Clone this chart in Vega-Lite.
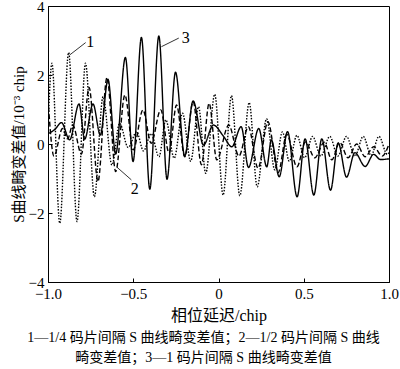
{
  "$schema": "https://vega.github.io/schema/vega-lite/v6.json",
  "width": 341,
  "height": 276,
  "autosize": {"type": "none"},
  "padding": {"left": 48, "top": 6, "right": 11, "bottom": 87},
  "background": "white",
  "config": {
    "view": {"stroke": "black", "strokeWidth": 1},
    "font": "Liberation Serif",
    "axis": {
      "grid": false,
      "domainColor": "black",
      "domainWidth": 1,
      "tickColor": "black",
      "tickWidth": 1,
      "labelColor": "black",
      "labelFont": "Liberation Serif",
      "labelFontSize": 15,
      "titleColor": "black",
      "titleFont": "Liberation Serif, Noto Sans CJK SC",
      "titleFontWeight": "normal"
    }
  },
  "title": {
    "text": ["1—1/4 码片间隔 S 曲线畸变差值；2—1/2 码片间隔 S 曲线", "畸变差值；3—1 码片间隔 S 曲线畸变差值"],
    "orient": "bottom",
    "anchor": "middle",
    "font": "Liberation Serif, Noto Sans CJK SC",
    "fontSize": 14,
    "fontWeight": "normal",
    "lineHeight": 20,
    "color": "black",
    "offset": 8,
    "dx": -15
  },
  "datasets": {
    "curves": [
      {"series": "1", "x": -1.0, "y": 0.4},
      {"series": "1", "x": -0.977, "y": 2.34},
      {"series": "1", "x": -0.931, "y": -2.30},
      {"series": "1", "x": -0.879, "y": 2.65},
      {"series": "1", "x": -0.83, "y": -2.25},
      {"series": "1", "x": -0.78, "y": 2.34},
      {"series": "1", "x": -0.728, "y": -1.53},
      {"series": "1", "x": -0.677, "y": 1.37},
      {"series": "1", "x": -0.625, "y": -0.61},
      {"series": "1", "x": -0.58, "y": 0.6},
      {"series": "1", "x": -0.53, "y": -0.1},
      {"series": "1", "x": -0.48, "y": 0.35},
      {"series": "1", "x": -0.44, "y": -0.2},
      {"series": "1", "x": -0.395, "y": 0.3},
      {"series": "1", "x": -0.349, "y": -0.37},
      {"series": "1", "x": -0.309, "y": 0.7},
      {"series": "1", "x": -0.26, "y": -0.41},
      {"series": "1", "x": -0.211, "y": 0.89},
      {"series": "1", "x": -0.163, "y": -0.5},
      {"series": "1", "x": -0.117, "y": 1.08},
      {"series": "1", "x": -0.075, "y": -0.85},
      {"series": "1", "x": -0.022, "y": 1.44},
      {"series": "1", "x": 0.027, "y": -1.48},
      {"series": "1", "x": 0.076, "y": 1.40},
      {"series": "1", "x": 0.125, "y": -1.50},
      {"series": "1", "x": 0.18, "y": 1.2},
      {"series": "1", "x": 0.227, "y": -1.24},
      {"series": "1", "x": 0.282, "y": 0.73},
      {"series": "1", "x": 0.33, "y": -0.75},
      {"series": "1", "x": 0.375, "y": 0.35},
      {"series": "1", "x": 0.415, "y": -0.5},
      {"series": "1", "x": 0.46, "y": 0.25},
      {"series": "1", "x": 0.505, "y": -0.4},
      {"series": "1", "x": 0.552, "y": 0.22},
      {"series": "1", "x": 0.60, "y": -0.35},
      {"series": "1", "x": 0.653, "y": 0.22},
      {"series": "1", "x": 0.70, "y": -0.35},
      {"series": "1", "x": 0.751, "y": 0.22},
      {"series": "1", "x": 0.80, "y": -0.35},
      {"series": "1", "x": 0.849, "y": 0.22},
      {"series": "1", "x": 0.895, "y": -0.33},
      {"series": "1", "x": 0.941, "y": 0.22},
      {"series": "1", "x": 0.99, "y": -0.3},
      {"series": "1", "x": 1.0, "y": -0.25},

      {"series": "2", "x": -1.0, "y": 1.3},
      {"series": "2", "x": -0.965, "y": -0.35},
      {"series": "2", "x": -0.915, "y": 0.45},
      {"series": "2", "x": -0.885, "y": 0.15},
      {"series": "2", "x": -0.855, "y": 0.55},
      {"series": "2", "x": -0.804, "y": -0.29},
      {"series": "2", "x": -0.759, "y": 1.64},
      {"series": "2", "x": -0.707, "y": -1.09},
      {"series": "2", "x": -0.654, "y": 1.93},
      {"series": "2", "x": -0.603, "y": -0.80},
      {"series": "2", "x": -0.549, "y": 1.42},
      {"series": "2", "x": -0.50, "y": -0.17},
      {"series": "2", "x": -0.443, "y": 0.99},
      {"series": "2", "x": -0.395, "y": 0.02},
      {"series": "2", "x": -0.339, "y": 0.99},
      {"series": "2", "x": -0.29, "y": -0.26},
      {"series": "2", "x": -0.246, "y": 1.13},
      {"series": "2", "x": -0.198, "y": -0.37},
      {"series": "2", "x": -0.149, "y": 1.23},
      {"series": "2", "x": -0.10, "y": -0.6},
      {"series": "2", "x": -0.055, "y": 1.18},
      {"series": "2", "x": -0.01, "y": -0.46},
      {"series": "2", "x": 0.06, "y": 0.55},
      {"series": "2", "x": 0.12, "y": -0.35},
      {"series": "2", "x": 0.175, "y": 0.5},
      {"series": "2", "x": 0.232, "y": -0.7},
      {"series": "2", "x": 0.29, "y": 0.65},
      {"series": "2", "x": 0.35, "y": -0.83},
      {"series": "2", "x": 0.40, "y": 0.28},
      {"series": "2", "x": 0.46, "y": -0.66},
      {"series": "2", "x": 0.51, "y": 0.06},
      {"series": "2", "x": 0.565, "y": -0.4},
      {"series": "2", "x": 0.62, "y": 0.05},
      {"series": "2", "x": 0.665, "y": -0.46},
      {"series": "2", "x": 0.71, "y": 0.05},
      {"series": "2", "x": 0.76, "y": -0.4},
      {"series": "2", "x": 0.81, "y": 0.0},
      {"series": "2", "x": 0.86, "y": -0.37},
      {"series": "2", "x": 0.91, "y": -0.08},
      {"series": "2", "x": 0.96, "y": -0.35},
      {"series": "2", "x": 1.0, "y": 0.0},

      {"series": "3", "x": -1.0, "y": 0.30},
      {"series": "3", "x": -0.96, "y": 0.42},
      {"series": "3", "x": -0.921, "y": 0.62},
      {"series": "3", "x": -0.873, "y": 0.12},
      {"series": "3", "x": -0.818, "y": 1.16},
      {"series": "3", "x": -0.785, "y": 0.14},
      {"series": "3", "x": -0.736, "y": 1.16},
      {"series": "3", "x": -0.693, "y": 0.26},
      {"series": "3", "x": -0.648, "y": 1.87},
      {"series": "3", "x": -0.603, "y": -0.29},
      {"series": "3", "x": -0.546, "y": 2.51},
      {"series": "3", "x": -0.501, "y": -0.51},
      {"series": "3", "x": -0.452, "y": 3.09},
      {"series": "3", "x": -0.403, "y": -1.31},
      {"series": "3", "x": -0.350, "y": 3.13},
      {"series": "3", "x": -0.302, "y": -1.02},
      {"series": "3", "x": -0.252, "y": 2.08},
      {"series": "3", "x": -0.198, "y": -0.35},
      {"series": "3", "x": -0.149, "y": 1.25},
      {"series": "3", "x": -0.088, "y": -0.03},
      {"series": "3", "x": -0.03, "y": 0.55},
      {"series": "3", "x": 0.03, "y": 0.22},
      {"series": "3", "x": 0.078, "y": -0.08},
      {"series": "3", "x": 0.133, "y": 0.50},
      {"series": "3", "x": 0.176, "y": -0.68},
      {"series": "3", "x": 0.236, "y": 0.45},
      {"series": "3", "x": 0.283, "y": -0.66},
      {"series": "3", "x": 0.31, "y": 0.12},
      {"series": "3", "x": 0.356, "y": -0.95},
      {"series": "3", "x": 0.405, "y": 0.36},
      {"series": "3", "x": 0.461, "y": -1.53},
      {"series": "3", "x": 0.508, "y": 0.15},
      {"series": "3", "x": 0.559, "y": -1.48},
      {"series": "3", "x": 0.606, "y": 0.15},
      {"series": "3", "x": 0.657, "y": -1.34},
      {"series": "3", "x": 0.702, "y": 0.03},
      {"series": "3", "x": 0.751, "y": -0.96},
      {"series": "3", "x": 0.80, "y": -0.25},
      {"series": "3", "x": 0.86, "y": -0.65},
      {"series": "3", "x": 0.91, "y": -0.3},
      {"series": "3", "x": 0.95, "y": -0.45},
      {"series": "3", "x": 1.0, "y": -0.43}
    ],
    "notes": [
      {"label": "1", "x": -0.873, "y": 2.58, "xe": -0.779, "ye": 2.94, "tx": -0.752, "ty": 2.96},
      {"label": "2", "x": -0.595, "y": -0.675, "xe": -0.511, "ye": -1.04, "tx": -0.4915, "ty": -1.31},
      {"label": "3", "x": -0.335, "y": 2.82, "xe": -0.233, "ye": 3.07, "tx": -0.192, "ty": 3.07}
    ]
  },
  "layer": [
    {
      "data": {"name": "curves"},
      "mark": {"type": "line", "interpolate": "monotone", "color": "black", "clip": true},
      "encoding": {
        "x": {
          "field": "x", "type": "quantitative",
          "scale": {"domain": [-1, 1], "nice": false, "zero": false},
          "axis": {
            "title": "相位延迟/chip",
            "titleFontSize": 16,
            "titlePadding": 6,
            "values": [-1, -0.5, 0, 0.5, 1],
            "labelExpr": "datum.value === 0 ? '0' : format(datum.value, '.1f')",
            "tickSize": -4,
            "labelPadding": 8,
            "labelFlush": false
          }
        },
        "y": {
          "field": "y", "type": "quantitative",
          "scale": {"domain": [-4, 4], "nice": false, "zero": false},
          "axis": {
            "title": "S曲线畸变差值/10⁻³ chip",
            "titleFontSize": 15,
            "titlePadding": 2,
            "values": [-4, -2, 0, 2, 4],
            "format": "d",
            "tickSize": -4,
            "labelPadding": 8
          }
        },
        "detail": {"field": "series"},
        "strokeDash": {
          "field": "series", "type": "nominal",
          "scale": {"domain": ["1", "2", "3"], "range": [[1.5, 1.5], [5, 2.5], [1, 0]]},
          "legend": null
        },
        "strokeWidth": {
          "field": "series", "type": "ordinal",
          "scale": {"domain": ["1", "2", "3"], "range": [1.4, 1.4, 1.7]},
          "legend": null
        }
      }
    },
    {
      "data": {"name": "notes"},
      "mark": {"type": "rule", "color": "black", "strokeWidth": 0.8},
      "encoding": {
        "x": {"field": "x", "type": "quantitative", "scale": {"domain": [-1, 1], "nice": false, "zero": false}},
        "y": {"field": "y", "type": "quantitative", "scale": {"domain": [-4, 4], "nice": false, "zero": false}},
        "x2": {"field": "xe"},
        "y2": {"field": "ye"}
      }
    },
    {
      "data": {"name": "notes"},
      "mark": {"type": "text", "color": "black", "font": "Liberation Serif", "fontSize": 16, "align": "center", "baseline": "middle"},
      "encoding": {
        "x": {"field": "tx", "type": "quantitative", "scale": {"domain": [-1, 1], "nice": false, "zero": false}},
        "y": {"field": "ty", "type": "quantitative", "scale": {"domain": [-4, 4], "nice": false, "zero": false}},
        "text": {"field": "label"}
      }
    }
  ]
}
